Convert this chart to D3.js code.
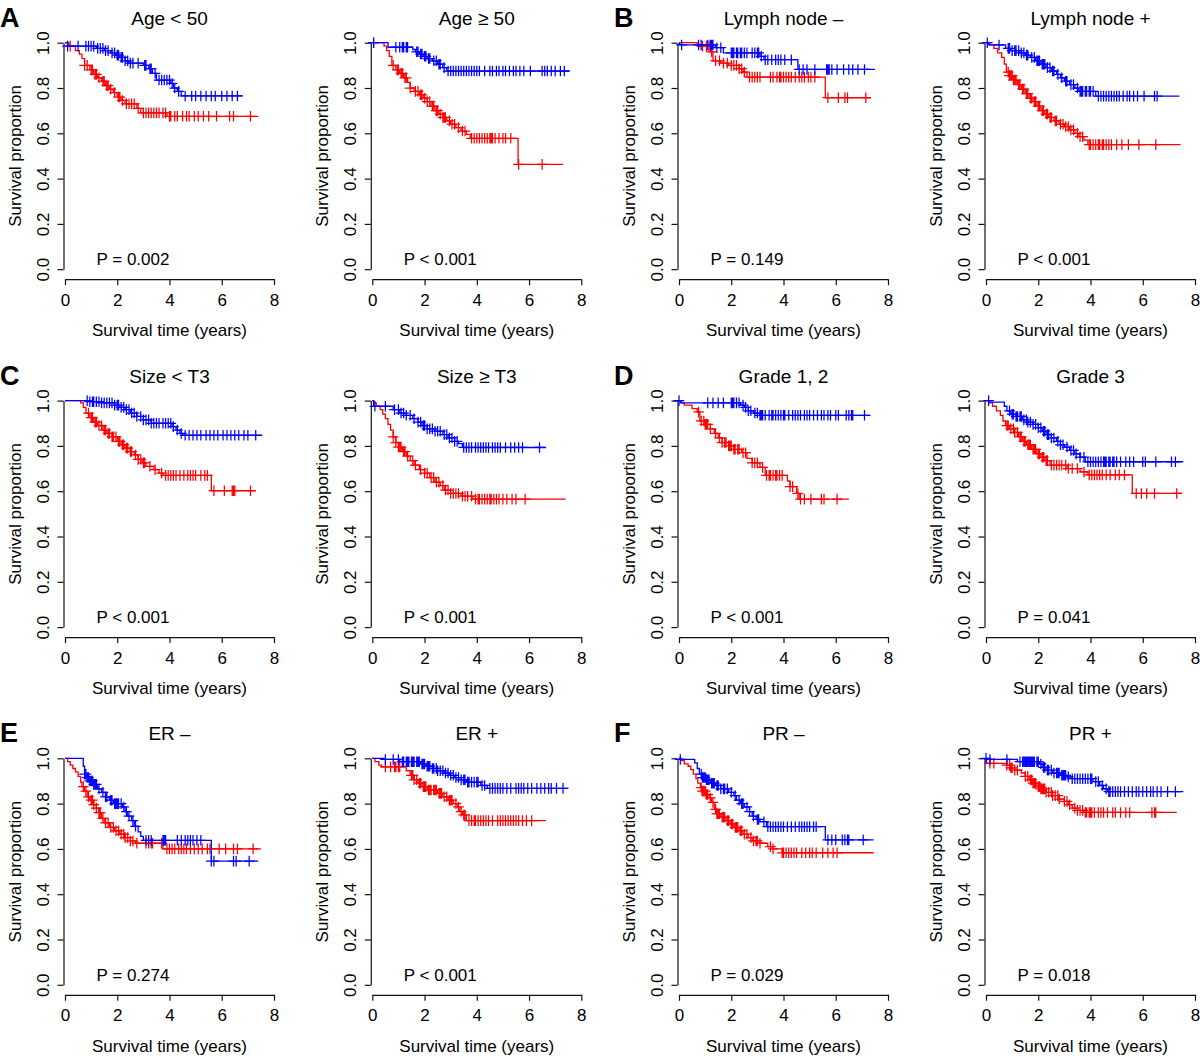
<!DOCTYPE html>
<html>
<head>
<meta charset="utf-8">
<script src="https://cdn.jsdelivr.net/npm/d3@7"></script>
<style>
  html, body { margin: 0; padding: 0; background: #fff; }
  svg { display: block; }
</style>
</head>
<body>
<script>
// ---------------- DATA ----------------
const titles = ["Age < 50", "Age \u2265 50", "Lymph node \u2013", "Lymph node +",
                "Size < T3", "Size \u2265 T3", "Grade 1, 2", "Grade 3",
                "ER \u2013", "ER +", "PR \u2013", "PR +"];
const pLabels = ["P = 0.002", "P < 0.001", "P = 0.149", "P < 0.001",
                 "P < 0.001", "P < 0.001", "P < 0.001", "P = 0.041",
                 "P = 0.274", "P < 0.001", "P = 0.029", "P = 0.018"];
const panelLetters = ["A", "", "B", "", "C", "", "D", "", "E", "", "F", ""];
const xTicks = [0, 2, 4, 6, 8];
const yTicks = [0, 0.2, 0.4, 0.6, 0.8, 1.0];
const xLabel = "Survival time (years)";
const yLabel = "Survival proportion";

// steps: [time, survival after drop]; end: last follow-up time; censor: censored times
// Panel 1: Age < 50
const age50lo_blueSteps = [[0.1,0.985],[1.2,0.975],[1.5,0.965],[1.75,0.955],[1.95,0.945],[2.1,0.935],[2.3,0.92],[2.45,0.91],[3.0,0.9],[3.2,0.885],[3.35,0.865],[3.5,0.835],[4.05,0.82],[4.15,0.8],[4.3,0.785],[4.45,0.765]];
const age50lo_blueEnd = 6.8;
const age50lo_blueCensor = [0.1,0.5,0.8,0.9,1.0,1.1,1.25,1.35,1.45,1.55,1.65,1.8,1.9,2.0,2.05,2.15,2.2,2.3,2.4,2.5,2.6,2.8,3.05,3.1,3.25,3.3,3.45,3.6,3.7,3.8,3.9,4.0,4.1,4.2,4.35,4.6,4.85,5.0,5.2,5.4,5.6,5.75,6.0,6.2,6.4,6.6];
const age50lo_redSteps = [[0.15,0.985],[0.4,0.965],[0.55,0.95],[0.65,0.93],[0.75,0.9],[0.95,0.88],[1.1,0.86],[1.25,0.845],[1.4,0.83],[1.55,0.81],[1.7,0.795],[1.85,0.78],[2.0,0.76],[2.15,0.745],[2.3,0.73],[2.75,0.71],[2.9,0.69],[3.9,0.675]];
const age50lo_redEnd = 7.4;
const age50lo_redCensor = [0.2,0.75,0.85,1.0,1.05,1.15,1.2,1.3,1.45,1.5,1.6,1.65,1.75,1.9,2.05,2.1,2.2,2.35,2.45,2.55,2.65,2.8,3.0,3.1,3.2,3.3,3.4,3.5,3.6,3.75,3.85,4.0,4.05,4.2,4.3,4.5,4.65,4.75,4.95,5.1,5.3,5.5,5.8,6.3,6.45,7.1];

// Panel 2: Age >= 50
const age50hi_blueSteps = [[0.6,0.98],[1.55,0.97],[1.65,0.96],[1.8,0.95],[1.95,0.94],[2.1,0.93],[2.3,0.92],[2.5,0.905],[2.7,0.89],[2.85,0.875]];
const age50hi_blueEnd = 7.55;
const age50hi_blueCensor = [0.05,0.9,1.05,1.15,1.2,1.3,1.35,1.7,1.75,1.85,1.9,2.0,2.05,2.15,2.2,2.35,2.45,2.55,2.6,2.75,2.9,3.0,3.1,3.2,3.3,3.4,3.5,3.6,3.7,3.8,3.9,4.0,4.1,4.3,4.5,4.6,4.75,4.85,5.0,5.1,5.25,5.4,5.5,5.65,5.8,6.05,6.5,6.6,6.7,6.85,7.0,7.2,7.35];
const age50hi_redSteps = [[0.45,0.985],[0.55,0.965],[0.65,0.94],[0.75,0.9],[0.9,0.88],[1.05,0.865],[1.2,0.845],[1.35,0.825],[1.45,0.8],[1.6,0.785],[1.8,0.77],[1.95,0.755],[2.1,0.74],[2.25,0.72],[2.4,0.7],[2.55,0.685],[2.7,0.67],[2.85,0.655],[3.0,0.64],[3.2,0.625],[3.4,0.61],[3.6,0.595],[3.75,0.578],[5.58,0.463]];
const age50hi_redEnd = 7.3;
const age50hi_redCensor = [0.05,0.8,0.95,1.0,1.1,1.15,1.25,1.3,1.45,1.65,1.75,1.85,1.9,2.0,2.1,2.2,2.3,2.35,2.45,2.5,2.6,2.7,2.75,2.8,2.95,3.05,3.15,3.3,3.45,3.55,3.8,3.9,4.0,4.1,4.2,4.3,4.4,4.5,4.55,4.6,4.7,4.85,5.0,5.1,5.3,5.6,6.5];

// Panel 3: Lymph node -
const lnNeg_blueSteps = [[0.02,0.99],[1.4,0.978],[1.7,0.955],[3.1,0.94],[3.25,0.925],[4.55,0.882]];
const lnNeg_blueEnd = 7.5;
const lnNeg_blueCensor = [0.1,0.75,0.85,1.1,1.2,1.25,1.3,1.45,1.6,2.0,2.05,2.1,2.2,2.25,2.35,2.4,2.5,2.6,2.8,2.9,3.0,3.05,3.15,3.3,3.4,3.55,3.7,3.8,3.9,4.05,4.3,4.6,4.75,4.9,5.2,5.65,5.7,5.75,5.85,6.05,6.3,6.5,6.65,6.85,7.1];
const lnNeg_redSteps = [[0.7,0.985],[1.2,0.96],[1.3,0.92],[1.6,0.91],[1.9,0.9],[2.3,0.885],[2.45,0.87],[2.6,0.848],[5.6,0.757]];
const lnNeg_redEnd = 7.35;
const lnNeg_redCensor = [0.9,1.05,1.15,1.25,1.4,1.55,1.7,1.85,2.0,2.1,2.2,2.3,2.4,2.5,2.7,2.8,2.9,3.0,3.1,3.5,3.6,3.75,3.85,3.9,4.0,4.1,4.2,4.3,4.45,4.6,4.7,4.8,4.95,5.05,5.2,5.7,6.1,6.35,6.45,7.15];

// Panel 4: Lymph node +
const lnPos_blueSteps = [[0.1,0.99],[0.75,0.975],[0.95,0.965],[1.3,0.955],[1.5,0.945],[1.7,0.935],[1.9,0.92],[2.1,0.905],[2.3,0.89],[2.5,0.875],[2.7,0.86],[2.85,0.845],[3.0,0.83],[3.2,0.815],[3.4,0.8],[3.55,0.785],[4.2,0.764]];
const lnPos_blueEnd = 7.4;
const lnPos_blueCensor = [0.05,0.5,0.85,0.9,1.0,1.1,1.15,1.25,1.35,1.45,1.55,1.6,1.75,1.85,1.95,2.0,2.05,2.15,2.2,2.25,2.35,2.45,2.55,2.6,2.75,2.9,3.05,3.1,3.25,3.35,3.5,3.6,3.65,3.7,3.8,3.85,3.95,4.0,4.1,4.3,4.4,4.5,4.6,4.7,4.8,4.9,5.0,5.1,5.25,5.4,5.5,5.65,5.8,6.05,6.45,6.55];
const lnPos_redSteps = [[0.15,0.99],[0.3,0.975],[0.45,0.955],[0.6,0.935],[0.7,0.905],[0.78,0.87],[0.9,0.855],[1.05,0.835],[1.2,0.815],[1.35,0.795],[1.5,0.775],[1.65,0.755],[1.8,0.74],[1.95,0.72],[2.1,0.7],[2.25,0.685],[2.4,0.67],[2.6,0.655],[2.8,0.64],[3.0,0.63],[3.2,0.615],[3.4,0.6],[3.55,0.585],[3.75,0.57],[3.9,0.55]];
const lnPos_redEnd = 7.45;
const lnPos_redCensor = [0.85,0.9,0.95,1.0,1.05,1.1,1.15,1.25,1.3,1.4,1.45,1.55,1.6,1.7,1.75,1.85,1.9,2.0,2.05,2.15,2.2,2.3,2.35,2.45,2.5,2.65,2.7,2.85,2.95,3.05,3.15,3.25,3.35,3.5,3.6,3.7,3.95,4.0,4.1,4.2,4.3,4.35,4.45,4.5,4.6,4.7,4.8,5.0,5.2,5.45,5.85,6.5];

// Panel 5: Size < T3
const sizeLo_blueSteps = [[0.95,0.995],[1.4,0.99],[1.9,0.98],[2.1,0.97],[2.3,0.96],[2.5,0.945],[2.75,0.93],[3.0,0.915],[3.3,0.9],[4.1,0.885],[4.25,0.87],[4.4,0.855],[4.5,0.847]];
const sizeLo_blueEnd = 7.55;
const sizeLo_blueCensor = [0.85,0.95,1.05,1.1,1.2,1.3,1.4,1.5,1.6,1.7,1.8,1.9,2.0,2.05,2.15,2.25,2.35,2.45,2.55,2.65,2.75,2.9,3.0,3.1,3.2,3.3,3.4,3.5,3.6,3.75,3.85,3.95,4.05,4.15,4.3,4.45,4.6,4.75,4.9,5.05,5.2,5.4,5.55,5.7,5.85,6.05,6.2,6.35,6.5,6.65,6.85,7.0,7.3];
const sizeLo_redSteps = [[0.6,0.99],[0.7,0.97],[0.8,0.945],[0.95,0.925],[1.1,0.905],[1.25,0.89],[1.45,0.87],[1.6,0.855],[1.8,0.84],[2.0,0.82],[2.15,0.805],[2.3,0.79],[2.5,0.775],[2.65,0.76],[2.8,0.74],[2.95,0.725],[3.1,0.71],[3.4,0.695],[3.6,0.68],[3.75,0.67],[5.6,0.602]];
const sizeLo_redEnd = 7.3;
const sizeLo_redCensor = [0.9,1.0,1.05,1.15,1.2,1.3,1.4,1.5,1.55,1.65,1.7,1.8,1.85,1.95,2.05,2.1,2.2,2.25,2.35,2.4,2.5,2.55,2.7,2.8,2.9,3.0,3.05,3.25,3.45,3.7,3.85,3.95,4.05,4.15,4.25,4.4,4.55,4.7,4.8,4.9,5.0,5.2,5.35,5.45,5.7,6.1,6.4,6.45,6.5,7.1];

// Panel 6: Size >= T3
const sizeHi_blueSteps = [[0.05,0.975],[0.8,0.96],[1.05,0.945],[1.3,0.935],[1.55,0.92],[1.75,0.905],[1.9,0.89],[2.1,0.875],[2.4,0.865],[2.7,0.85],[2.9,0.835],[3.15,0.82],[3.3,0.81],[3.45,0.793]];
const sizeHi_blueEnd = 6.65;
const sizeHi_blueCensor = [0.1,0.5,0.85,1.0,1.1,1.2,1.3,1.45,1.6,1.75,1.85,1.95,2.0,2.1,2.2,2.3,2.4,2.5,2.6,2.75,2.85,2.95,3.05,3.15,3.25,3.5,3.6,3.7,3.8,3.95,4.05,4.15,4.25,4.35,4.45,4.6,4.7,4.8,4.9,5.1,5.3,5.45,5.6,5.75,6.4];
const sizeHi_redSteps = [[0.05,0.99],[0.15,0.975],[0.3,0.96],[0.4,0.94],[0.5,0.92],[0.6,0.895],[0.7,0.87],[0.8,0.84],[0.9,0.815],[1.0,0.795],[1.15,0.775],[1.3,0.755],[1.45,0.735],[1.6,0.715],[1.8,0.695],[2.0,0.68],[2.2,0.66],[2.4,0.64],[2.6,0.625],[2.75,0.605],[3.0,0.59],[3.4,0.578],[3.85,0.565]];
const sizeHi_redEnd = 7.4;
const sizeHi_redCensor = [0.8,0.9,1.0,1.05,1.1,1.2,1.25,1.35,1.55,1.65,1.85,2.0,2.1,2.25,2.35,2.45,2.55,2.7,2.8,2.9,3.0,3.1,3.2,3.3,3.45,3.55,3.65,3.8,3.95,4.05,4.1,4.2,4.3,4.4,4.5,4.55,4.65,4.75,4.85,5.0,5.15,5.35,5.5,5.85];

// Panel 7: Grade 1, 2
const gr12_blueSteps = [[0.05,0.99],[2.35,0.98],[2.5,0.97],[2.65,0.955],[2.85,0.945],[3.1,0.935]];
const gr12_blueEnd = 7.33;
const gr12_blueCensor = [0.0,1.1,1.3,1.5,1.7,2.0,2.05,2.1,2.2,2.3,2.45,2.55,2.65,2.75,2.9,3.0,3.1,3.15,3.2,3.3,3.45,3.55,3.6,3.7,3.8,3.9,4.0,4.05,4.2,4.35,4.45,4.55,4.65,4.8,4.9,5.0,5.15,5.3,5.45,5.55,5.7,5.8,6.0,6.1,6.4,6.5,6.6,6.65,7.1];
const gr12_redSteps = [[0.1,0.99],[0.2,0.98],[0.5,0.965],[0.7,0.95],[0.8,0.91],[1.0,0.895],[1.2,0.875],[1.35,0.855],[1.5,0.835],[1.65,0.815],[1.9,0.8],[2.1,0.785],[2.4,0.77],[2.6,0.745],[2.8,0.725],[3.1,0.705],[3.3,0.67],[4.15,0.645],[4.25,0.62],[4.5,0.59],[4.6,0.565]];
const gr12_redEnd = 6.5;
const gr12_redCensor = [0.75,0.85,0.95,1.0,1.05,1.1,1.2,1.4,1.55,1.65,1.75,1.8,1.9,1.95,2.0,2.1,2.15,2.25,2.3,2.45,2.55,2.8,2.9,3.0,3.2,3.35,3.45,3.5,3.6,3.7,3.75,3.85,3.95,4.25,4.35,4.55,4.65,4.8,5.05,5.45,5.55,6.05];

// Panel 8: Grade 3
const gr3_blueSteps = [[0.15,0.993],[0.7,0.975],[0.8,0.955],[0.95,0.94],[1.15,0.93],[1.4,0.915],[1.6,0.905],[1.8,0.895],[2.0,0.88],[2.15,0.865],[2.3,0.85],[2.5,0.835],[2.7,0.82],[2.85,0.805],[3.0,0.795],[3.2,0.78],[3.4,0.765],[3.6,0.75],[3.8,0.73]];
const gr3_blueEnd = 7.55;
const gr3_blueCensor = [0.1,0.9,1.0,1.05,1.15,1.2,1.3,1.35,1.45,1.55,1.6,1.7,1.8,1.9,2.0,2.1,2.2,2.25,2.35,2.4,2.5,2.6,2.75,2.85,2.95,3.1,3.25,3.35,3.45,3.6,3.75,3.9,4.0,4.1,4.2,4.3,4.4,4.5,4.55,4.6,4.7,4.75,4.85,4.9,5.0,5.15,5.35,5.5,5.65,6.0,6.1,6.5,7.1,7.25];
const gr3_redSteps = [[0.1,0.99],[0.25,0.975],[0.4,0.955],[0.55,0.935],[0.65,0.91],[0.75,0.89],[0.9,0.875],[1.1,0.86],[1.25,0.84],[1.4,0.82],[1.55,0.805],[1.75,0.785],[1.95,0.765],[2.1,0.75],[2.25,0.735],[2.45,0.715],[3.1,0.7],[3.6,0.685],[3.9,0.672],[5.6,0.59]];
const gr3_redEnd = 7.5;
const gr3_redCensor = [0.8,0.85,0.95,1.05,1.1,1.2,1.3,1.35,1.45,1.5,1.6,1.65,1.7,1.8,1.85,1.9,2.0,2.05,2.15,2.2,2.3,2.35,2.5,2.6,2.7,2.8,2.9,3.05,3.15,3.3,3.5,3.75,3.95,4.05,4.15,4.25,4.35,4.45,4.6,4.75,4.95,5.1,5.3,5.75,5.95,6.15,6.45,7.3];

// Panel 9: ER -
const erNeg_blueSteps = [[0.7,0.965],[0.75,0.93],[0.85,0.915],[0.95,0.9],[1.1,0.885],[1.25,0.865],[1.4,0.85],[1.55,0.83],[1.7,0.815],[1.85,0.8],[2.2,0.785],[2.3,0.765],[2.4,0.745],[2.55,0.725],[2.65,0.7],[2.8,0.675],[2.9,0.655],[3.0,0.638],[5.6,0.546]];
const erNeg_blueEnd = 7.4;
const erNeg_blueCensor = [0.75,0.8,0.85,0.9,0.95,1.0,1.05,1.1,1.15,1.2,1.3,1.45,1.55,1.6,1.75,1.8,1.9,1.95,2.0,2.05,2.15,2.25,2.35,2.45,2.6,2.7,3.1,3.2,3.3,3.75,3.8,3.85,4.3,4.45,4.6,4.7,4.8,4.9,5.05,5.2,5.6,5.7,6.45,6.55,7.05];
const erNeg_redSteps = [[0.1,0.985],[0.2,0.97],[0.3,0.955],[0.4,0.94],[0.5,0.92],[0.6,0.895],[0.65,0.875],[0.75,0.855],[0.85,0.83],[0.95,0.815],[1.1,0.795],[1.2,0.78],[1.3,0.76],[1.4,0.735],[1.5,0.715],[1.7,0.695],[1.9,0.68],[2.1,0.665],[2.3,0.65],[2.5,0.635],[2.7,0.625],[3.75,0.6]];
const erNeg_redEnd = 7.5;
const erNeg_redCensor = [0.7,0.8,0.9,1.0,1.05,1.1,1.2,1.3,1.35,1.45,1.55,1.65,1.75,1.85,1.95,2.05,2.15,2.25,2.3,2.4,2.5,2.6,2.75,3.1,3.2,3.3,3.35,3.7,3.9,4.0,4.1,4.2,4.35,4.45,4.55,4.65,4.8,4.95,5.1,5.25,5.45,5.55,5.9,6.15,6.45,6.6,7.2];

// Panel 10: ER +
const erPos_blueSteps = [[0.45,0.995],[1.05,0.985],[1.85,0.975],[2.05,0.965],[2.3,0.955],[2.5,0.945],[2.75,0.935],[2.95,0.925],[3.15,0.915],[3.4,0.905],[3.6,0.895],[4.15,0.88],[4.4,0.867]];
const erPos_blueEnd = 7.5;
const erPos_blueCensor = [0.5,0.8,1.0,1.15,1.2,1.3,1.35,1.4,1.5,1.55,1.6,1.7,1.75,1.8,1.9,1.95,2.0,2.1,2.15,2.2,2.3,2.35,2.45,2.5,2.6,2.7,2.8,2.9,3.0,3.1,3.2,3.3,3.4,3.5,3.55,3.65,3.7,3.8,3.9,4.0,4.05,4.2,4.3,4.5,4.6,4.7,4.8,4.9,5.0,5.15,5.3,5.5,5.6,5.7,5.8,5.95,6.1,6.3,6.45,6.6,6.75,6.85,7.05,7.3];
const erPos_redSteps = [[0.1,0.985],[0.25,0.97],[0.35,0.962],[1.3,0.945],[1.45,0.925],[1.6,0.905],[1.75,0.89],[1.9,0.875],[2.1,0.86],[2.5,0.845],[2.7,0.83],[2.9,0.815],[3.1,0.8],[3.25,0.785],[3.35,0.765],[3.45,0.75],[3.6,0.725]];
const erPos_redEnd = 6.65;
const erPos_redCensor = [0.5,0.7,0.85,0.9,1.0,1.05,1.5,1.55,1.6,1.7,1.8,1.85,1.95,2.0,2.05,2.15,2.2,2.25,2.35,2.4,2.45,2.55,2.6,2.65,2.75,2.85,2.95,3.0,3.05,3.2,3.3,3.4,3.5,3.55,3.7,3.8,3.9,3.95,4.05,4.15,4.25,4.35,4.45,4.6,4.8,4.9,5.0,5.1,5.2,5.3,5.4,5.5,5.6,5.75,5.9,6.1];

// Panel 11: PR -
const prNeg_blueSteps = [[0.05,0.995],[0.6,0.98],[0.7,0.955],[0.78,0.93],[0.9,0.915],[1.05,0.905],[1.2,0.89],[1.4,0.88],[1.6,0.865],[1.9,0.85],[2.1,0.835],[2.2,0.815],[2.35,0.8],[2.5,0.785],[2.7,0.765],[2.8,0.745],[2.95,0.73],[3.1,0.72],[3.35,0.698],[5.6,0.64]];
const prNeg_blueEnd = 7.45;
const prNeg_blueCensor = [0.05,0.85,0.9,0.95,1.0,1.05,1.1,1.15,1.25,1.3,1.35,1.45,1.5,1.6,1.7,1.75,1.85,2.0,2.15,2.3,2.4,2.45,2.6,2.7,2.85,3.0,3.05,3.25,3.4,3.5,3.6,3.7,3.8,3.9,4.0,4.15,4.3,4.45,4.6,4.7,4.8,4.9,5.0,5.15,5.25,5.7,5.85,6.0,6.25,6.35,6.45,6.5,7.05];
const prNeg_redSteps = [[0.1,0.99],[0.2,0.975],[0.35,0.965],[0.45,0.95],[0.55,0.93],[0.65,0.91],[0.72,0.89],[0.82,0.87],[0.9,0.855],[1.05,0.84],[1.15,0.825],[1.25,0.805],[1.35,0.775],[1.45,0.755],[1.6,0.74],[1.8,0.725],[1.95,0.71],[2.1,0.695],[2.3,0.68],[2.45,0.665],[2.65,0.65],[2.8,0.635],[3.1,0.625],[3.4,0.61],[3.6,0.6],[3.95,0.583]];
const prNeg_redEnd = 7.45;
const prNeg_redCensor = [0.85,0.9,0.95,1.0,1.05,1.1,1.2,1.3,1.4,1.45,1.5,1.55,1.65,1.7,1.75,1.85,1.9,2.0,2.05,2.15,2.2,2.25,2.35,2.4,2.5,2.6,2.75,2.85,2.95,3.0,3.1,3.5,3.6,3.95,4.0,4.1,4.2,4.3,4.4,4.5,4.7,4.85,5.0,5.1,5.25,5.5,5.7,5.9,6.05];

// Panel 12: PR +
const prPos_blueSteps = [[0.05,0.995],[1.2,0.985],[2.05,0.975],[2.15,0.96],[2.3,0.948],[2.55,0.935],[2.85,0.925],[3.1,0.918],[3.25,0.91],[4.1,0.897],[4.35,0.88],[4.5,0.865],[4.65,0.853]];
const prPos_blueEnd = 7.55;
const prPos_blueCensor = [0.0,0.15,0.8,1.3,1.4,1.45,1.5,1.55,1.6,1.65,1.7,1.75,1.8,1.85,1.95,2.0,2.1,2.2,2.25,2.35,2.4,2.5,2.6,2.7,2.75,2.8,2.9,2.95,3.0,3.05,3.15,3.3,3.4,3.5,3.6,3.7,3.8,3.9,4.0,4.05,4.2,4.3,4.45,4.6,4.7,4.75,4.85,4.95,5.05,5.15,5.3,5.45,5.6,5.75,5.85,6.0,6.15,6.3,6.4,6.55,6.7,6.95,7.25];
const prPos_redSteps = [[0.02,0.978],[0.8,0.97],[0.95,0.958],[1.1,0.948],[1.35,0.935],[1.5,0.92],[1.65,0.905],[1.8,0.89],[1.95,0.875],[2.1,0.865],[2.3,0.85],[2.55,0.835],[2.8,0.82],[3.0,0.81],[3.15,0.795],[3.3,0.78],[3.5,0.77],[3.75,0.761]];
const prPos_redEnd = 7.3;
const prPos_redCensor = [0.15,0.3,0.8,0.9,0.95,1.0,1.1,1.2,1.5,1.6,1.7,1.75,1.8,1.85,1.9,2.0,2.05,2.1,2.15,2.2,2.25,2.3,2.4,2.5,2.55,2.65,2.75,2.8,3.0,3.1,3.2,3.4,3.5,3.6,3.7,3.8,3.85,3.95,4.0,4.05,4.15,4.3,4.4,4.5,4.65,4.85,4.95,5.15,5.35,5.5,6.35,6.45,6.5];

// ---------------- ASSEMBLY ----------------
const panels = [
  {blue:[age50lo_blueSteps,age50lo_blueEnd,age50lo_blueCensor], red:[age50lo_redSteps,age50lo_redEnd,age50lo_redCensor]},
  {blue:[age50hi_blueSteps,age50hi_blueEnd,age50hi_blueCensor], red:[age50hi_redSteps,age50hi_redEnd,age50hi_redCensor]},
  {blue:[lnNeg_blueSteps,lnNeg_blueEnd,lnNeg_blueCensor], red:[lnNeg_redSteps,lnNeg_redEnd,lnNeg_redCensor]},
  {blue:[lnPos_blueSteps,lnPos_blueEnd,lnPos_blueCensor], red:[lnPos_redSteps,lnPos_redEnd,lnPos_redCensor]},
  {blue:[sizeLo_blueSteps,sizeLo_blueEnd,sizeLo_blueCensor], red:[sizeLo_redSteps,sizeLo_redEnd,sizeLo_redCensor]},
  {blue:[sizeHi_blueSteps,sizeHi_blueEnd,sizeHi_blueCensor], red:[sizeHi_redSteps,sizeHi_redEnd,sizeHi_redCensor]},
  {blue:[gr12_blueSteps,gr12_blueEnd,gr12_blueCensor], red:[gr12_redSteps,gr12_redEnd,gr12_redCensor]},
  {blue:[gr3_blueSteps,gr3_blueEnd,gr3_blueCensor], red:[gr3_redSteps,gr3_redEnd,gr3_redCensor]},
  {blue:[erNeg_blueSteps,erNeg_blueEnd,erNeg_blueCensor], red:[erNeg_redSteps,erNeg_redEnd,erNeg_redCensor]},
  {blue:[erPos_blueSteps,erPos_blueEnd,erPos_blueCensor], red:[erPos_redSteps,erPos_redEnd,erPos_redCensor]},
  {blue:[prNeg_blueSteps,prNeg_blueEnd,prNeg_blueCensor], red:[prNeg_redSteps,prNeg_redEnd,prNeg_redCensor]},
  {blue:[prPos_blueSteps,prPos_blueEnd,prPos_blueCensor], red:[prPos_redSteps,prPos_redEnd,prPos_redCensor]}
];

// ---------------- DRAWING ----------------
const W = 1200, H = 1056;
const FONT = "'Liberation Sans', Arial, Helvetica, sans-serif";
const colX0 = [65, 372.3, 679, 986];
const rowY1 = [42.7, 400.6, 758.3];
const plotW = 209, plotH = 226.5;
const COLORS = {red: "#ff0000", blue: "#0000ff"};

const svg = d3.select("body").append("svg")
  .attr("width", W).attr("height", H)
  .style("background", "#fff");

function survAt(steps, t) {
  let s = 1;
  for (const [ts, sv] of steps) { if (ts <= t) s = sv; else break; }
  return s;
}

panels.forEach((p, i) => {
  const r = Math.floor(i / 4), c = i % 4;
  const x0 = colX0[c], y1 = rowY1[r], y0 = y1 + plotH;
  const x = d3.scaleLinear().domain([0, 8]).range([x0, x0 + plotW]);
  const y = d3.scaleLinear().domain([0, 1]).range([y0, y1]);
  const g = svg.append("g");

  // x axis
  const xa = g.append("g")
    .attr("transform", `translate(0,${y0 + 10})`)
    .call(d3.axisBottom(x).tickValues(xTicks).tickSize(6).tickSizeOuter(0).tickFormat(d3.format("d")));
  xa.select(".domain").attr("stroke", "#111").attr("stroke-width", 1.2);
  xa.selectAll(".tick line").attr("stroke", "#111").attr("stroke-width", 1.2);
  xa.selectAll("text").attr("y", 26.5).attr("dy", null)
    .attr("fill", "#000").style("font-family", FONT).style("font-size", "17px");

  // y axis
  const ya = g.append("g")
    .attr("transform", `translate(${x0 - 1.5},0)`)
    .call(d3.axisLeft(y).tickValues(yTicks).tickSize(6).tickSizeOuter(0).tickFormat(d3.format(".1f")));
  ya.select(".domain").attr("stroke", "#111").attr("stroke-width", 1.2);
  ya.selectAll(".tick line").attr("stroke", "#111").attr("stroke-width", 1.2);
  ya.selectAll("text")
    .attr("transform", "rotate(-90)")
    .attr("x", 0).attr("y", -20.5).attr("dy", "0.36em")
    .attr("text-anchor", "middle")
    .attr("fill", "#000").style("font-family", FONT).style("font-size", "17px");

  // axis titles
  g.append("text")
    .attr("x", (x0 + x0 + plotW) / 2).attr("y", y0 + 67)
    .attr("text-anchor", "middle").style("font-family", FONT).style("font-size", "17px")
    .text(xLabel);
  g.append("text")
    .attr("transform", `translate(${x0 - 50},${(y0 + y1) / 2}) rotate(-90)`)
    .attr("dy", "0.36em")
    .attr("text-anchor", "middle").style("font-family", FONT).style("font-size", "17px")
    .text(yLabel);

  // title
  g.append("text")
    .attr("x", x0 + plotW / 2).attr("y", y1 - 18)
    .attr("text-anchor", "middle").style("font-family", FONT).style("font-size", "19px")
    .text(titles[i]);

  // P label
  g.append("text")
    .attr("x", x0 + 31.5).attr("y", y0 - 4)
    .attr("text-anchor", "start").style("font-family", FONT).style("font-size", "17px")
    .text(pLabels[i]);

  // panel letter
  if (panelLetters[i]) {
    g.append("text")
      .attr("x", x0 - 65).attr("y", y1 - 16)
      .style("font-family", FONT).style("font-size", "27px").style("font-weight", "bold")
      .text(panelLetters[i]);
  }

  // curves
  const line = d3.line().x(d => x(d[0])).y(d => y(d[1])).curve(d3.curveStepAfter);
  ["red", "blue"].forEach(key => {
    const [steps, end, censor] = p[key];
    const pts = [[0, 1], ...steps, [end, steps[steps.length - 1][1]]];
    g.append("path")
      .attr("d", line(pts))
      .attr("fill", "none").attr("stroke", COLORS[key]).attr("stroke-width", 1.3);
    const arm = 5.3;
    g.append("path")
      .attr("d", censor.map(t => {
        const cx = x(t), cy = y(survAt(steps, t));
        return `M${cx - arm},${cy}H${cx + arm}M${cx},${cy - arm}V${cy + arm}`;
      }).join(""))
      .attr("fill", "none").attr("stroke", COLORS[key]).attr("stroke-width", 1.25);
  });
});
</script>
</body>
</html>
